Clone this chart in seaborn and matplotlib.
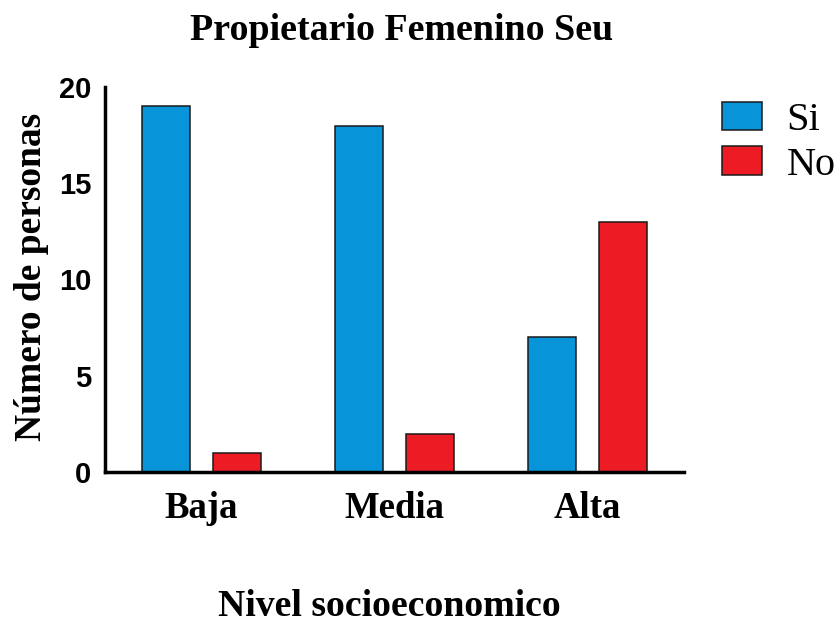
import matplotlib
matplotlib.use("Agg")
import matplotlib.pyplot as plt
import seaborn as sns
import pandas as pd

# Survey counts by socioeconomic level
niveles = ["Baja", "Media", "Alta"]
respuestas = ["Si", "No"]
valores_si = [19, 18, 7]
valores_no = [1, 2, 13]
yticks = [0, 5, 10, 15, 20]

df = pd.DataFrame({
    "nivel": niveles * 2,
    "respuesta": ["Si"] * len(niveles) + ["No"] * len(niveles),
    "personas": valores_si + valores_no,
})

sns.set_style("white")
plt.rcParams.update({
    "text.color": "black",
    "axes.labelcolor": "black",
    "xtick.color": "black",
    "ytick.color": "black",
})
serif = "Liberation Serif"
sans = "Liberation Sans"

fig = plt.figure(figsize=(8.35, 6.22), dpi=100)
ax = fig.add_axes([105 / 835, 1 - 472 / 622, (684 - 105) / 835, (472 - 87) / 622])

sns.barplot(
    data=df, x="nivel", y="personas", hue="respuesta",
    order=niveles, hue_order=respuestas,
    palette=["#0894d8", "#ed1c24"],
    width=0.74, gap=0.33, edgecolor="#1a1a1a", linewidth=1.1,
    saturation=1, ax=ax,
)

ax.set_xlim(-0.5, 2.5)
ax.set_ylim(0, 20)
ax.set_yticks(yticks)
ax.set_yticklabels([str(v) for v in yticks], fontfamily=sans, fontweight="bold", fontsize=21)
ax.set_xticks(range(len(niveles)))
ax.set_xticklabels(niveles, fontfamily=serif, fontweight="bold", fontsize=26.5)

for side in ["top", "right"]:
    ax.spines[side].set_visible(False)
for side in ["left", "bottom"]:
    ax.spines[side].set_linewidth(2.5)
    ax.spines[side].set_color("black")
ax.tick_params(axis="both", direction="out", length=6, width=2.5, color="black")
ax.tick_params(axis="y", pad=4)
ax.tick_params(axis="x", pad=8)

ax.set_xlabel("")
ax.set_ylabel("")
fig.text(32 / 835, 1 - 277 / 622, "Número de personas", rotation=90,
         ha="center", va="center", fontfamily=serif, fontweight="bold", fontsize=27)
fig.text(389 / 835, 1 - 606 / 622, "Nivel socioeconomico",
         ha="center", va="center", fontfamily=serif, fontweight="bold", fontsize=27.2)
fig.text(402 / 835, 1 - 30 / 622, "Propietario Femenino Seu",
         ha="center", va="center", fontfamily=serif, fontweight="bold", fontsize=27.3)

handles, labels = ax.get_legend_handles_labels()
ax.get_legend().remove()
fig.legend(handles, labels, loc="upper left",
           bbox_to_anchor=(722 / 835, 1 - 102 / 622),
           frameon=False, borderpad=0, borderaxespad=0,
           handlelength=1.0, handleheight=0.7, handletextpad=0.6,
           labelspacing=0.18, prop={"family": serif, "size": 29})

fig.savefig("out.png", dpi=100)
